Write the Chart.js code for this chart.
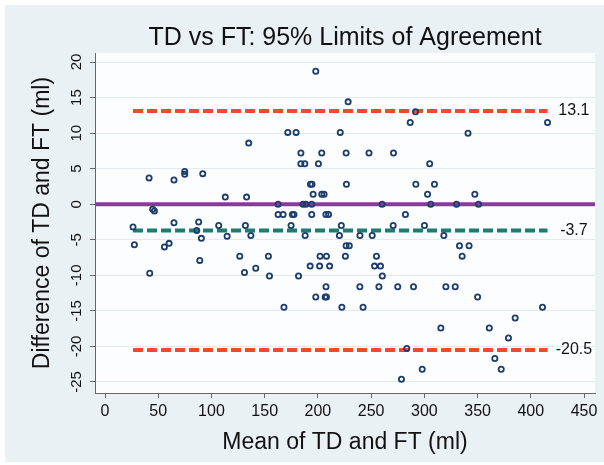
<!DOCTYPE html>
<html>
<head>
<meta charset="utf-8">
<script src="https://cdn.jsdelivr.net/npm/chart.js@4"></script>
<style>
  body { margin: 0; background: #fff; }
  canvas { display: block; }
</style>
</head>
<body>
<canvas id="baChart" width="604" height="465"></canvas>
<script>
// DATA
const meanTDFT = [
  135, 41.4, 64.8, 74.9, 74.9, 91.8, 113, 133, 44.8, 46.4, 26.3, 64.8, 88, 86.2, 90.5,
  106.8, 114.7, 131.9, 137, 27.6, 55.8, 60.2, 89, 126.6, 153.5, 42, 131, 141.6, 154.5,
  198, 228.4, 291.7, 286.7, 171.7, 179.5, 221, 184, 203.6, 226.5, 248, 271, 184, 187.7,
  200.5, 305, 193, 194.5, 226.8, 292, 195.5, 203.6, 205.8, 303,
  162.6, 186, 188.8, 194.2, 260.3, 306,
  162.6, 167.3, 176, 177.5, 194.2, 207.5, 210, 282.2,
  174.8, 222, 270.7, 300.1,
  188, 220.2, 239.5, 251,
  226.5, 229.5,
  202, 208, 225.8, 255,
  192.7, 201.6, 211, 253.2, 258.8,
  181.8, 260.5,
  207.6, 239.4, 257.3, 275, 289.8,
  198, 206.8, 208,
  168.1, 222.5, 242.4,
  283.5, 298, 278.5,
  415.7, 341, 309.5, 347.4, 330.2, 350.9, 318.3, 333, 342, 335.5, 320.2, 329, 350,
  411, 385.3, 315.5, 361, 379, 366.2, 372.2
];
const diffTDFT = [
  8.6, 3.7, 3.4, 4.6, 4.2, 4.3, 1.0, 1.0, -0.7, -0.95, -3.2, -2.6, -2.5, -3.7, -4.8,
  -3.0, -4.5, -3.0, -4.4, -5.7, -6.0, -5.5, -7.9, -7.3, -7.3, -9.7, -9.6, -9.0, -10.1,
  18.7, 14.4, 13.0, 11.5, 10.1, 10.1, 10.1, 7.2, 7.2, 7.2, 7.2, 7.2, 5.7, 5.7,
  5.7, 5.7, 2.8, 2.8, 2.8, 2.8, 1.4, 1.4, 1.4, 1.4,
  0, 0, 0, 0, 0, 0,
  -1.45, -1.45, -1.45, -1.45, -1.45, -1.45, -1.45, -1.45,
  -3.0, -3.0, -3.0, -3.0,
  -4.4, -4.4, -4.4, -4.4,
  -5.85, -5.85,
  -7.3, -7.3, -7.3, -7.3,
  -8.7, -8.7, -8.7, -8.7, -8.7,
  -10.1, -10.1,
  -11.6, -11.6, -11.6, -11.6, -11.6,
  -13.05, -13.05, -13.05,
  -14.5, -14.5, -14.5,
  -20.3, -23.2, -24.6,
  11.5, 10.0, 2.8, 1.4, 0, 0, -4.4, -5.85, -5.85, -7.3, -11.6, -11.6, -13.05,
  -14.5, -16, -17.4, -17.4, -18.8, -21.7, -23.2
];
const limitValues = [13.1, -3.7, -20.5];
const limitLabels = ['13.1', '-3.7', '-20.5'];
const limitColors = ['#f1492a', '#1f7b6d', '#f1492a'];
const xTicks = [0, 50, 100, 150, 200, 250, 300, 350, 400, 450];
const yTicks = [-25, -20, -15, -10, -5, 0, 5, 10, 15, 20];
const xRange = [-9.4, 460.3];
const yRange = [-26.55, 21.27];

const FONT = '"Liberation Sans", Arial, Helvetica, sans-serif';

//BUILD DATASETS
const points = meanTDFT.map((m, i) => ({x: m, y: diffTDFT[i]}));
const xLo = Math.min(...meanTDFT), xHi = Math.max(...meanTDFT);

const datasets = [{
  label: 'points',
  data: points,
  pointRadius: 2.6,
  pointBorderWidth: 1.8,
  pointBorderColor: '#1d3d6c',
  pointBackgroundColor: 'transparent',
  showLine: false
}, {
  label: 'zero',
  data: [{x: xRange[0], y: 0}, {x: xRange[1], y: 0}],
  showLine: true,
  borderColor: '#8a3a9b',
  borderWidth: 4,
  pointRadius: 0
}];
limitValues.forEach((v, i) => {
  datasets.push({
    label: limitLabels[i],
    data: [{x: xLo, y: v}, {x: xHi, y: v}],
    showLine: true,
    borderColor: limitColors[i],
    borderWidth: 4,
    borderDash: [10, 4],
    borderCapStyle: 'butt',
    pointRadius: 0
  });
});

//BACKGROUND AND LIMIT TEXT
const bgPlugin = {
  id: 'bg',
  beforeDraw(chart) {
    const {ctx, chartArea: a} = chart;
    ctx.save();
    ctx.fillStyle = '#ffffff';
    ctx.fillRect(0, 0, chart.width, chart.height);
    ctx.fillStyle = '#e9f1f4';
    ctx.fillRect(5, 5, chart.width - 5, chart.height - 8);
    ctx.fillStyle = '#fbfdfe';
    ctx.fillRect(a.left, a.top, a.right - a.left, a.bottom - a.top);
    ctx.restore();
  },
  afterDraw(chart) {
    const {ctx, scales} = chart;
    ctx.save();
    ctx.fillStyle = '#111';
    ctx.font = '16px ' + FONT;
    ctx.textAlign = 'center';
    ctx.textBaseline = 'middle';
    limitValues.forEach((v, i) => {
      ctx.fillText(limitLabels[i], scales.x.getPixelForValue(440.5), scales.y.getPixelForValue(v));
    });
    ctx.restore();
  }
};

new Chart(document.getElementById('baChart').getContext('2d'), {
  type: 'scatter',
  data: {datasets: datasets},
  plugins: [bgPlugin],
  options: {
    responsive: false,
    animation: false,
    layout: {padding: {left: 0, right: 9, top: 0, bottom: 0}},
    plugins: {
      legend: {display: false},
      tooltip: {enabled: false},
      title: {
        display: true,
        text: 'TD vs FT: 95% Limits of Agreement',
        fullSize: false,
        color: '#111',
        font: {family: FONT, size: 25, weight: 'normal', lineHeight: 1.2},
        padding: {top: 23, bottom: 0}
      }
    },
    scales: {
      x: {
        type: 'linear',
        min: xRange[0],
        max: xRange[1],
        afterBuildTicks: s => { s.ticks = xTicks.map(v => ({value: v})); },
        afterFit: s => { s.height = 72; },
        grid: {drawOnChartArea: false, drawTicks: true, tickLength: 5, color: '#666', lineWidth: 1},
        border: {display: true, color: '#666', width: 1},
        ticks: {color: '#111', font: {family: FONT, size: 16}, padding: 4, maxRotation: 0, autoSkip: false},
        title: {
          display: true,
          text: 'Mean of TD and FT (ml)',
          color: '#111',
          font: {family: FONT, size: 23, lineHeight: 1.2},
          padding: {top: 0, bottom: 9}
        }
      },
      y: {
        type: 'linear',
        min: yRange[0],
        max: yRange[1],
        afterBuildTicks: s => { s.ticks = yTicks.map(v => ({value: v})); },
        afterFit: s => { s.width = 95; },
        grid: {color: '#e0ebf1', lineWidth: 1, drawTicks: true, tickLength: 5, tickColor: '#666'},
        border: {display: true, color: '#666', width: 1},
        ticks: {
          color: '#111', font: {family: FONT, size: 15}, padding: 2,
          minRotation: 90, maxRotation: 90, crossAlign: 'center', autoSkip: false
        },
        title: {
          display: true,
          text: 'Difference of TD and FT (ml)',
          color: '#111',
          font: {family: FONT, size: 23, lineHeight: 1.2},
          padding: {top: 29, bottom: 0}
        }
      }
    }
  }
});
</script>
</body>
</html>
